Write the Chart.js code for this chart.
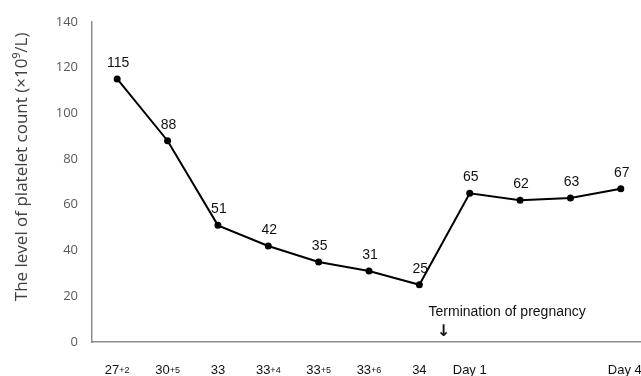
<!DOCTYPE html>
<html>
<head>
<meta charset="utf-8">
<script src="https://cdn.jsdelivr.net/npm/chart.js@4/dist/chart.umd.min.js"></script>
<style>
  html, body { margin: 0; padding: 0; background: #fff; overflow: hidden; }
  #wrap { width: 660px; height: 376px; }
</style>
</head>
<body>
<div id="wrap"><canvas id="platelet-chart" width="660" height="376"></canvas></div>
<script>
// Gestational week (+day) / postpartum day for each measurement
const categories = ["27+2", "30+5", "33", "33+4", "33+5", "33+6", "34", "Day 1", "", "", "Day 4"];
const plateletValues = [115, 88, 51, 42, 35, 31, 25, 65, 62, 63, 67];
const yTicks = [0, 20, 40, 60, 80, 100, 120, 140];
const yTitle = "The level of platelet count (×10⁹/L)";
const annotationText = "Termination of pregnancy";

// Draws value labels, the split "+d" tick labels, the axis title and the termination marker
const overlayPlugin = {
  id: "overlay",
  afterDraw(chart) {
    const ctx = chart.ctx;
    const xs = chart.scales.x;
    const ys = chart.scales.y;
    const area = chart.chartArea;
    const meta = chart.getDatasetMeta(0);

    ctx.save();
    // value labels above points
    ctx.fillStyle = "#111";
    ctx.font = "14px 'Liberation Sans', Arial, sans-serif";
    ctx.textAlign = "center";
    ctx.textBaseline = "middle";
    meta.data.forEach((pt, i) => {
      ctx.fillText(String(plateletValues[i]), pt.x + 1, pt.y - 16);
    });

    // category labels with small "+d" suffix
    const labelY = ys.getPixelForValue(0) + 28;
    ctx.textAlign = "left";
    categories.forEach((cat, i) => {
      if (!cat) return;
      const parts = cat.split("+");
      const main = parts[0];
      const suffix = parts.length > 1 ? "+" + parts[1] : "";
      ctx.font = "13px 'Liberation Sans', Arial, sans-serif";
      const wMain = ctx.measureText(main).width;
      ctx.font = "9px 'Liberation Sans', Arial, sans-serif";
      const wSuf = suffix ? ctx.measureText(suffix).width : 0;
      const cx = xs.getPixelForValue(i);
      let x = cx - (wMain + wSuf) / 2;
      if (i === categories.length - 1) x += 4;
      ctx.fillStyle = "#111";
      ctx.font = "13px 'Liberation Sans', Arial, sans-serif";
      ctx.fillText(main, x, labelY);
      if (suffix) {
        ctx.font = "9px 'Liberation Sans', Arial, sans-serif";
        ctx.fillText(suffix, x + wMain, labelY + 1);
      }
    });

    // y axis title
    ctx.save();
    ctx.translate(22, (area.top + area.bottom) / 2 - 15);
    ctx.rotate(-Math.PI / 2);
    ctx.textAlign = "center";
    ctx.fillStyle = "#404040";
    ctx.font = "17px 'Open Sans', sans-serif";
    ctx.fillText(yTitle, 0, 0);
    ctx.restore();

    // termination of pregnancy marker between "34" and "Day 1"
    const midX = (xs.getPixelForValue(6) + xs.getPixelForValue(7)) / 2;
    const baseY = ys.getPixelForValue(0);
    ctx.fillStyle = "#111";
    ctx.font = "14px 'Liberation Sans', Arial, sans-serif";
    ctx.textAlign = "left";
    ctx.fillText(annotationText, midX - 16, baseY - 30);

    ctx.font = "bold 16px 'DejaVu Sans', sans-serif";
    ctx.textAlign = "center";
    ctx.fillText("↓", midX - 1, baseY - 10);
    ctx.restore();
  }
};

const ctx = document.getElementById("platelet-chart").getContext("2d");

new Chart(ctx, {
  type: "line",
  data: {
    labels: categories,
    datasets: [{
      data: plateletValues,
      borderColor: "#000",
      backgroundColor: "#000",
      borderWidth: 2,
      pointRadius: 2.5,
      pointHoverRadius: 2.5,
      tension: 0
    }]
  },
  options: {
    responsive: false,
    animation: false,
    layout: { padding: { top: 14, left: 12, right: 14, bottom: 0 } },
    plugins: {
      legend: { display: false },
      tooltip: { enabled: false }
    },
    scales: {
      x: {
        offset: true,
        grid: { display: false, drawTicks: false },
        border: { color: "#8c8c8c", width: 1.5 },
        ticks: {
          color: "rgba(0,0,0,0)",
          font: { size: 12 },
          padding: 16,
          autoSkip: false,
          maxRotation: 0
        },
        afterFit: (scale) => { scale.height = 34; }
      },
      y: {
        min: 0,
        max: 140,
        afterBuildTicks: (scale) => { scale.ticks = yTicks.map(v => ({ value: v })); },
        afterFit: (scale) => { scale.width = 80; },
        grid: { display: false, drawTicks: false },
        border: { color: "#8c8c8c", width: 1.5 },
        ticks: {
          color: "#595959",
          font: { family: "'Open Sans', sans-serif", size: 13 },
          padding: 14
        },
        title: { display: false }
      }
    }
  },
  plugins: [overlayPlugin]
});
</script>
</body>
</html>
